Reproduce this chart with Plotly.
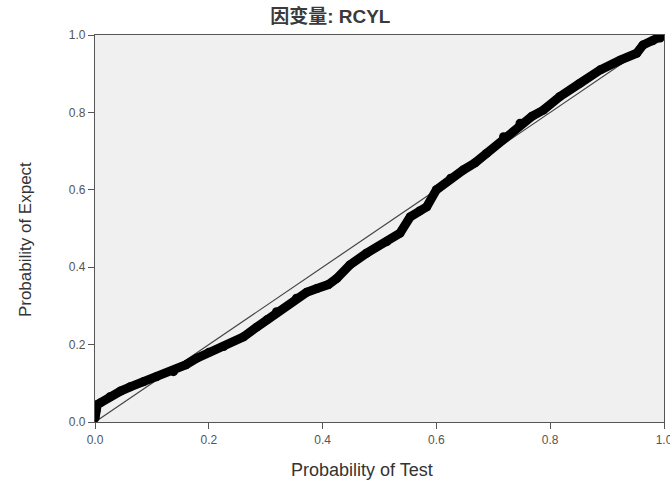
import plotly.graph_objects as go

# Observed cumulative probability (Test) vs expected cumulative probability
prob_test = [0.000, 0.002, 0.004, 0.010, 0.026, 0.045, 0.062, 0.085, 0.108, 0.138,
             0.160, 0.179, 0.200, 0.226, 0.261, 0.284, 0.302, 0.319, 0.354, 0.372,
             0.390, 0.410, 0.425, 0.448, 0.477, 0.513, 0.536, 0.554, 0.570, 0.583,
             0.600, 0.625, 0.647, 0.668, 0.688, 0.718, 0.747, 0.768, 0.788, 0.817,
             0.852, 0.888, 0.923, 0.952, 0.963, 0.980, 0.993, 1.000]
prob_expect = [0.010, 0.030, 0.045, 0.050, 0.065, 0.080, 0.091, 0.104, 0.117, 0.130,
               0.148, 0.165, 0.180, 0.195, 0.220, 0.245, 0.264, 0.285, 0.320, 0.335,
               0.345, 0.355, 0.371, 0.406, 0.436, 0.466, 0.488, 0.530, 0.545, 0.556,
               0.600, 0.630, 0.651, 0.670, 0.694, 0.737, 0.772, 0.790, 0.806, 0.841,
               0.875, 0.910, 0.935, 0.953, 0.974, 0.985, 0.992, 1.000]
ref_line = [0.0, 1.0]
tick_vals = [0.0, 0.2, 0.4, 0.6, 0.8, 1.0]
tick_text = ["0.0", "0.2", "0.4", "0.6", "0.8", "1.0"]

FONT = "Liberation Sans, Arial, sans-serif"

fig = go.Figure()
fig.add_trace(go.Scatter(x=ref_line, y=ref_line, mode="lines",
                         line=dict(color="#444444", width=1.2),
                         hoverinfo="skip", showlegend=False))
fig.add_trace(go.Scatter(x=prob_test, y=prob_expect, mode="lines+markers",
                         line=dict(color="black", width=9),
                         marker=dict(color="black", size=9, symbol="circle"),
                         showlegend=False))

axis_common = dict(range=[0, 1], tickvals=tick_vals, ticktext=tick_text,
                   showgrid=False, zeroline=False, showline=True, mirror=True,
                   linecolor="#555555", linewidth=1.3, ticks="outside", ticklen=6,
                   tickcolor="#555555", tickwidth=1.3, ticklabeloverflow="allow",
                   automargin=False,
                   tickfont=dict(family=FONT, size=12, color="#555555"))

fig.update_layout(
    width=670, height=485,
    margin=dict(l=95, r=6, t=35, b=63, autoexpand=False),
    paper_bgcolor="white", plot_bgcolor="#f0f0f0",
    title=dict(text="<b>因变量: RCYL</b>", xref="container", x=0.493, xanchor="center",
               yref="container", y=0.967, yanchor="middle",
               font=dict(family="Liberation Sans, Noto Sans CJK SC, sans-serif", size=19, color="#3a3a3a")),
    xaxis=dict(**axis_common),
    yaxis=dict(**axis_common),
    annotations=[
        dict(text="Probability of Test", xref="paper", yref="paper",
             x=0.469, y=-0.125, xanchor="center", yanchor="middle", showarrow=False,
             font=dict(family=FONT, size=18, color="#333333")),
        dict(text="Probability of Expect", xref="paper", yref="paper",
             x=-0.123, y=0.47, xanchor="center", yanchor="middle", showarrow=False,
             textangle=-90, font=dict(family=FONT, size=17, color="#333333")),
    ],
)

fig.write_html("out.html", config={"displayModeBar": False},
               post_script="document.body.style.margin='0';")
